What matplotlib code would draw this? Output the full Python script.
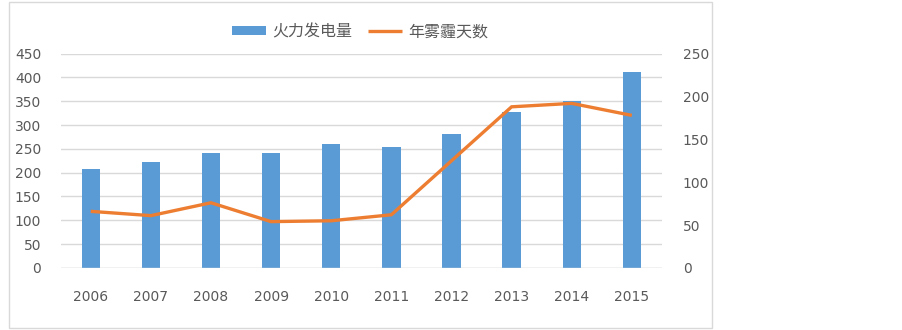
import numpy as np
import matplotlib
matplotlib.use('Agg')
from matplotlib import pyplot as plt
from matplotlib.patches import Rectangle

plt.rcParams['font.family'] = ['Noto Sans CJK SC', 'DejaVu Sans']

# data
years = ['2006', '2007', '2008', '2009', '2010', '2011', '2012', '2013', '2014', '2015']
power = [207, 222, 242, 241, 261, 255, 282, 327, 350, 411]   # 火力发电量 (left axis)
haze_days = [66, 61, 76, 54, 55, 62, 125, 188, 192, 178]     # 年雾霾天数 (right axis)

blue = '#5B9BD5'
orange = '#ED7D31'
grey = '#D9D9D9'
text_col = '#595959'

fig = plt.figure(figsize=(9.03, 3.30), dpi=100)
ax = fig.add_axes([0.0672, 0.1882, 0.6658, 0.6491])
ax2 = ax.twinx()

x = np.arange(len(years))
ax.bar(x, power, width=0.305, color=blue, label='火力发电量', zorder=2)
ax2.plot(x, haze_days, color=orange, linewidth=2.4, label='年雾霾天数',
         solid_capstyle='butt', solid_joinstyle='miter')

ax.set_xlim(-0.5, len(years) - 0.5)
ax.set_ylim(0, 450)
ax.set_yticks(range(0, 451, 50))
ax2.set_ylim(0, 250)
ax2.set_yticks(range(0, 251, 50))

ax.set_xticks(x)
ax.set_xticklabels(years)
ax.yaxis.grid(True, color=grey, linewidth=1)
ax.set_axisbelow(True)

for a in (ax, ax2):
    for s in ['top', 'left', 'right', 'bottom']:
        a.spines[s].set_visible(False)
    a.tick_params(length=0, labelsize=10, colors=text_col, labelfontfamily='DejaVu Sans')
ax.tick_params(axis='y', pad=14)
ax2.tick_params(axis='y', pad=15)
ax.tick_params(axis='x', pad=16)
ax.axhline(0, color=grey, linewidth=1, zorder=3)

h1, l1 = ax.get_legend_handles_labels()
h2, l2 = ax2.get_legend_handles_labels()
leg = fig.legend(h1 + h2, l1 + l2, loc='center', bbox_to_anchor=(0.399, 0.904),
                 ncol=2, frameon=False, fontsize=11.5, handlelength=2.1,
                 handleheight=0.4, columnspacing=1.0, handletextpad=0.4)
for t in leg.get_texts():
    t.set_color(text_col)

# light chart border
fig.patches.append(Rectangle((9 / 903, 2 / 330), 703 / 903, 326 / 330,
                             transform=fig.transFigure, fill=False,
                             edgecolor=grey, linewidth=1))

fig.savefig('out.png', dpi=100)
